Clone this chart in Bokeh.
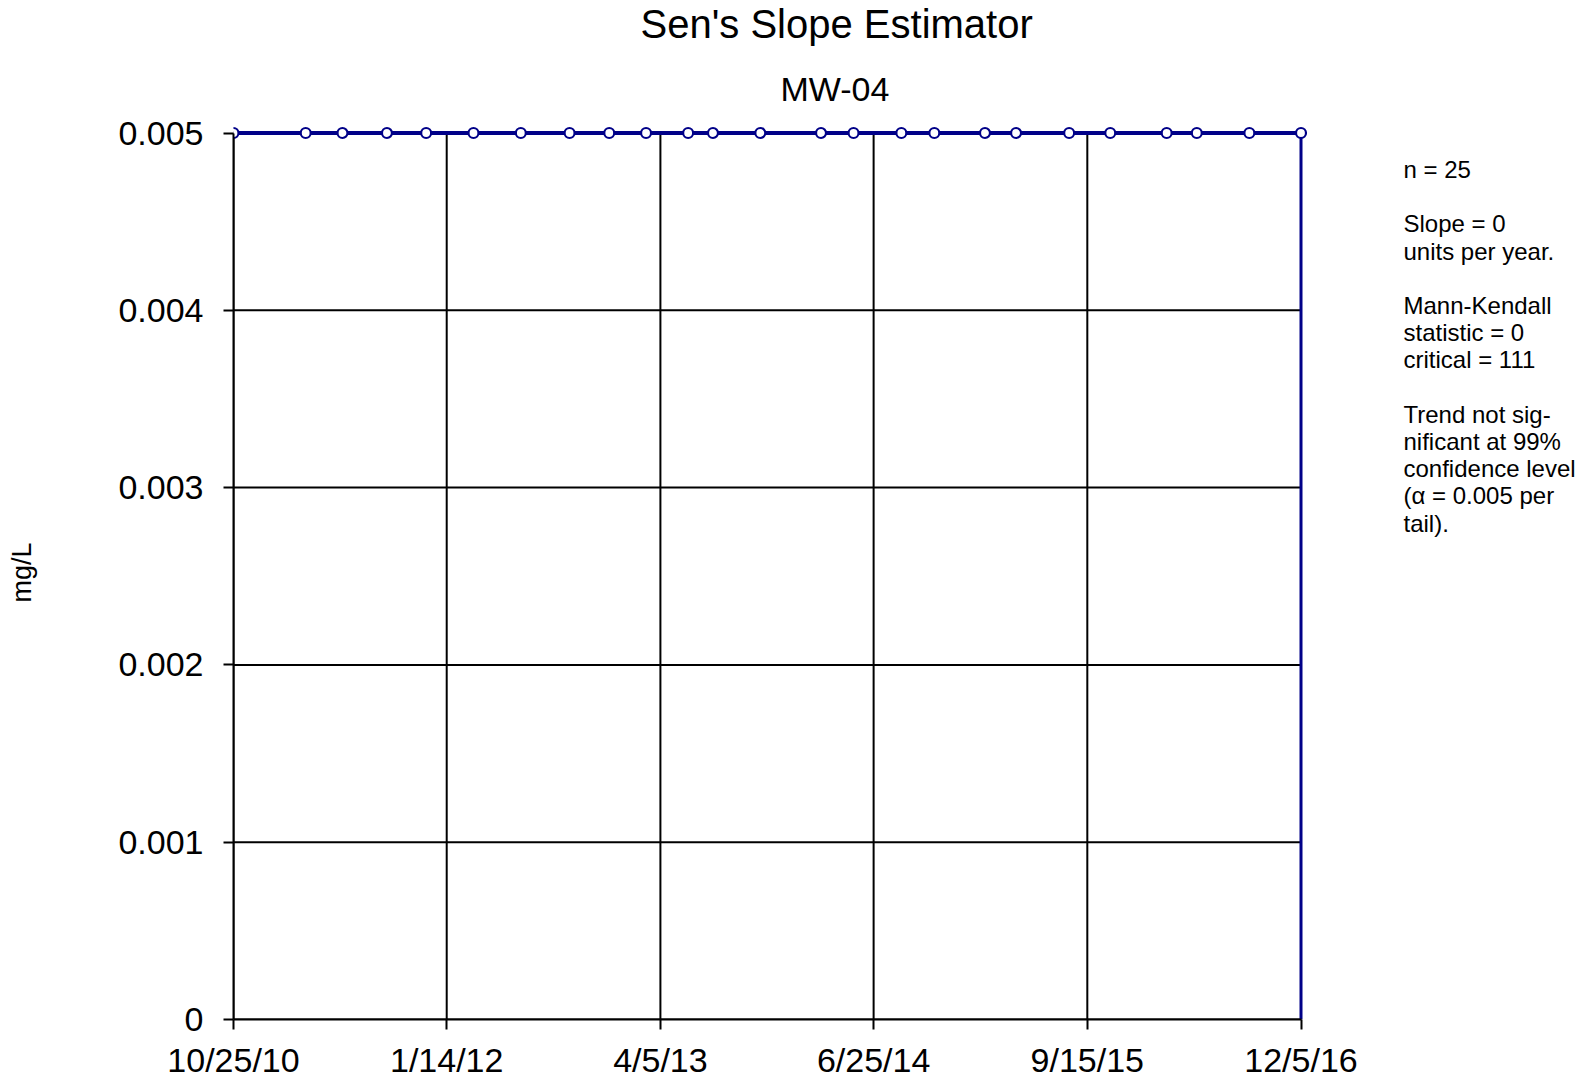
import pandas as pd
from bokeh.plotting import figure
from bokeh.models import FixedTicker, Label, Range1d, Title
from bokeh.embed import file_html
from bokeh.resources import INLINE

# ---------------- data ----------------
sample_dates = ["2010-10-25", "2011-03-25", "2011-06-10", "2011-09-11", "2011-12-02",
                "2012-03-10", "2012-06-17", "2012-09-27", "2012-12-19", "2013-03-06",
                "2013-06-02", "2013-07-24", "2013-10-31", "2014-03-07", "2014-05-14",
                "2014-08-22", "2014-10-30", "2015-02-13", "2015-04-19", "2015-08-08",
                "2015-11-02", "2016-02-28", "2016-05-01", "2016-08-19", "2016-12-05"]
values = [0.005, 0.005, 0.005, 0.005, 0.005,
          0.005, 0.005, 0.005, 0.005, 0.005,
          0.005, 0.005, 0.005, 0.005, 0.005,
          0.005, 0.005, 0.005, 0.005, 0.005,
          0.005, 0.005, 0.005, 0.005, 0.005]

x_tick_dates = ["2010-10-25", "2012-01-14", "2013-04-05", "2014-06-25", "2015-09-15", "2016-12-05"]
x_tick_labels = ["10/25/10", "1/14/12", "4/5/13", "6/25/14", "9/15/15", "12/5/16"]
y_ticks = [0.0, 0.001, 0.002, 0.003, 0.004, 0.005]
y_tick_labels = ["0", "0.001", "0.002", "0.003", "0.004", "0.005"]

title_text = "Sen's Slope Estimator"
subtitle_text = "MW-04"
y_label = "mg/L"
stats_lines = ["n = 25", "", "Slope = 0", "units per year.", "",
               "Mann-Kendall", "statistic = 0", "critical = 111", "",
               "Trend not sig-", "nificant at 99%", "confidence level",
               "(\u03b1 = 0.005 per", "tail)."]

# ---------------- helpers ----------------
def to_ms(ds):
    return [int(v) for v in (pd.to_datetime(ds).astype("int64") // 10**6)]

xs = to_ms(sample_dates)
xt = to_ms(x_tick_dates)

FONT = "Liberation Sans"
NAVY = "#000088"

# frame: data area plus a strip on the right for the statistics text,
# and a small pad on top so the markers are not clipped
left_border, top_border = 233, 125
frame_w, frame_h = 1350, 894
data_w_px, data_h_px = 1067.5, 886.5

x0, x1 = xt[0], xt[-1]
x_end = x0 + (x1 - x0) * frame_w / data_w_px
y0, y1 = y_ticks[0], y_ticks[-1]
y_end = y0 + (y1 - y0) * frame_h / data_h_px

p = figure(frame_width=frame_w, frame_height=frame_h,
           x_range=Range1d(x0, x_end), y_range=Range1d(y0, y_end),
           output_backend="svg", toolbar_location=None, title=None,
           min_border_left=left_border, min_border_top=top_border,
           min_border_right=0, min_border_bottom=40)
p.outline_line_color = None
p.background_fill_color = "white"
p.border_fill_color = "white"
p.xgrid.visible = False
p.ygrid.visible = False

# titles
p.add_layout(Title(text=subtitle_text, align="left", offset=547, standoff=36,
                   vertical_align="bottom", text_font=FONT, text_font_size="34px",
                   text_font_style="normal", text_color="black"), "above")
p.add_layout(Title(text=title_text, align="left", offset=407, standoff=3,
                   vertical_align="top", text_font=FONT, text_font_size="40px",
                   text_font_style="normal", text_color="black"), "above")

# grid lines drawn from tick arrays
p.segment(x0=[x0] * len(y_ticks), y0=y_ticks, x1=[x1] * len(y_ticks), y1=y_ticks,
          line_color="black", line_width=2, level="underlay")
p.segment(x0=xt, y0=[y0] * len(xt), x1=xt, y1=[y1] * len(xt),
          line_color="black", line_width=2, level="underlay")

# series
p.line(xs, values, line_color=NAVY, line_width=4)
p.segment(x0=[xs[-1]], y0=[values[-1]], x1=[xs[-1]], y1=[y0],
          line_color=NAVY, line_width=3)
p.scatter(xs, values, size=10, fill_color="white", line_color=NAVY, line_width=2.2)

# axes
xa = p.xaxis[0]
xa.ticker = FixedTicker(ticks=xt)
xa.major_label_overrides = {t: l for t, l in zip(xt, x_tick_labels)}
xa.bounds = (x0, x1)
xa.minor_tick_line_color = None
xa.major_tick_in = 0
xa.major_tick_out = 10
xa.major_label_standoff = 11
xa.major_label_text_font = FONT
xa.major_label_text_font_size = "34px"
xa.major_label_text_color = "black"
xa.axis_line_color = "black"
xa.axis_line_width = 2
xa.major_tick_line_color = "black"
xa.major_tick_line_width = 2

ya = p.yaxis[0]
ya.ticker = FixedTicker(ticks=y_ticks)
ya.major_label_overrides = {t: l for t, l in zip(y_ticks, y_tick_labels)}
ya.bounds = (y0, y1)
ya.minor_tick_line_color = None
ya.major_tick_in = 0
ya.major_tick_out = 10
ya.major_label_standoff = 20
ya.major_label_text_font = FONT
ya.major_label_text_font_size = "34px"
ya.major_label_text_color = "black"
ya.axis_line_color = "black"
ya.axis_line_width = 2
ya.major_tick_line_color = "black"
ya.major_tick_line_width = 2
ya.axis_label = y_label
ya.axis_label_text_font = FONT
ya.axis_label_text_font_size = "27px"
ya.axis_label_text_font_style = "normal"
ya.axis_label_text_color = "black"
ya.axis_label_standoff = 78

# stats text block (screen units relative to frame, y up from frame bottom)
for k, line in enumerate(stats_lines):
    if not line:
        continue
    p.add_layout(Label(x=1170, y=850 - k * 27.2, x_units="screen", y_units="screen",
                       text=line, text_font=FONT, text_font_size="24px",
                       text_color="black", text_align="left", text_baseline="middle"))

open("out.html", "w").write(file_html(p, INLINE))
